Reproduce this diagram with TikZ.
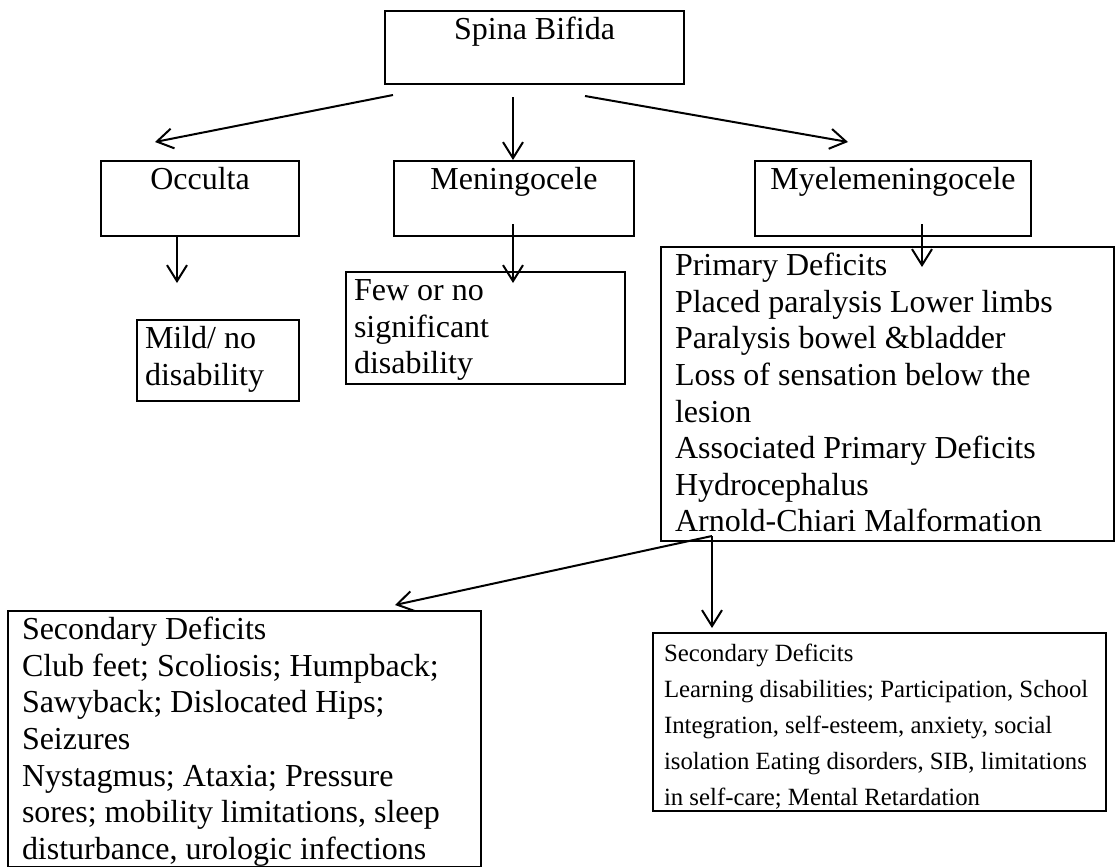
\documentclass[tikz,border=0pt]{standalone}
\usepackage{fontspec}
\setmainfont{Liberation Serif}
\usetikzlibrary{arrows.meta}
\newlength\pxu
\setlength\pxu{0.5pt}
\newcommand{\bx}[4][14pt]{\parbox[t][#3\pxu][t]{\dimexpr#2\pxu-#1\relax}{\raggedright\vspace*{1.5pt}\strut#4}}
\begin{document}
\begin{tikzpicture}[x=0.5pt,y=-0.5pt,
  box/.style={draw,line width=1pt,anchor=north west,inner ysep=0pt,inner xsep=7pt,font=\fontsize{16}{18.3}\selectfont},
  arr/.style={line width=1pt,-{Straight Barb[length=8pt,width=10pt,line width=1pt]}}]
\useasboundingbox (0,0) rectangle (1115,867);
\node[box] (sb) at (384,10) {\bx{299}{73}{\centering Spina Bifida}};
\node[box] (occ) at (100,160) {\bx{198}{75}{\centering Occulta}};
\node[box] (men) at (393,160) {\bx{240}{75}{\centering Meningocele}};
\node[box] (mye) at (754,160) {\bx{276}{75}{\centering Myelemeningocele}};
\node[box,inner xsep=4pt] (mild) at (136,319) {\bx[8pt]{162}{81}{Mild/ no\\disability}};
\node[box,inner xsep=4pt] (few) at (345,271) {\bx[8pt]{279}{112}{Few or no\\significant\\disability}};
\node[box] (prim) at (660,246) {\bx{453}{294}{Primary Deficits\\Placed paralysis Lower limbs\\Paralysis bowel \&bladder\\Loss of sensation below the\\lesion\\Associated Primary Deficits\\Hydrocephalus\\Arnold-Chiari Malformation}};
\node[box] (secl) at (7,610) {\bx{473}{256}{Secondary Deficits\\Club feet; Scoliosis; Humpback;\\Sawyback; Dislocated Hips;\\Seizures\\Nystagmus; Ataxia; Pressure\\sores; mobility limitations, sleep\\disturbance, urologic infections}};
\node[box,inner xsep=5.5pt,font=\fontsize{12.4}{18}\selectfont] (secr) at (652,632) {\bx[11pt]{453}{178}{Secondary Deficits\\Learning disabilities; Participation, School\\Integration, self-esteem, anxiety, social\\isolation Eating disorders, SIB, limitations\\in self-care; Mental Retardation}};
\draw[arr] ([shift={(9,10)}]sb.south west)--([shift={(55,-18)}]occ.north west);
\draw[arr] ([shift={(129,12)}]sb.south west)--([shift={(120,0)}]men.north west);
\draw[arr] ([shift={(201,11)}]sb.south west)--([shift={(94,-18)}]mye.north west);
\draw[arr] ([shift={(77,0)}]occ.south west)--([shift={(41,-36)}]mild.north west);
\draw[arr] ([shift={(120,-13)}]men.south west)--([shift={(168,12)}]few.north west);
\draw[arr] ([shift={(168,-13)}]mye.south west)--([shift={(262,21)}]prim.north west);
\draw[arr] ([shift={(52,-6)}]prim.south west)--([shift={(388,-5)}]secl.north west);
\draw[arr] ([shift={(52,-6)}]prim.south west)--([shift={(60,-4)}]secr.north west);
\end{tikzpicture}
\end{document}
